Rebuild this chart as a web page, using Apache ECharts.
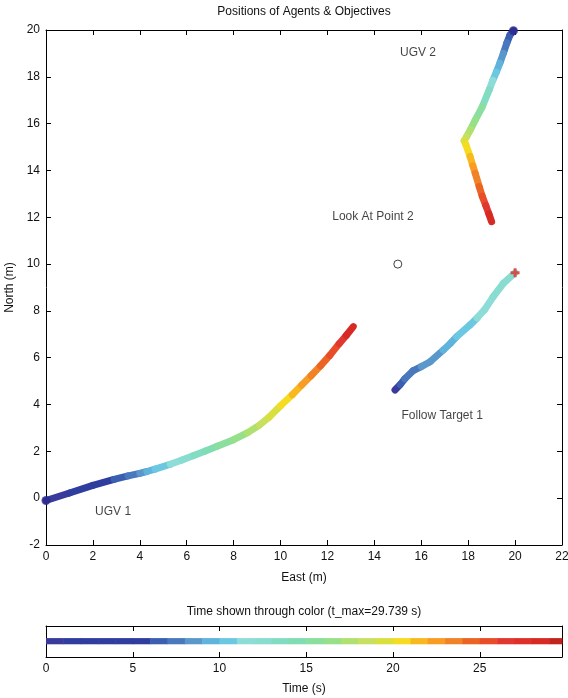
<!DOCTYPE html>
<html>
<head>
<meta charset="utf-8">
<script src="https://cdn.jsdelivr.net/npm/echarts@6/dist/echarts.min.js"></script>
<style>
  html, body { margin: 0; padding: 0; background: #fff; }
  #box { width: 568px; height: 698px; }
</style>
</head>
<body>
<div id="box"></div>
<script>
// colormap, one colour per second of time
const colorMap = ['#3a3a9c','#2f3e9e','#2f3e9e','#2f3e9e','#2f3e9e','#2f3e9e','#3a5fb0','#4a78bd','#5a98cc','#60b4dc',
  '#6cc8e0','#8edcd8','#88dcd0','#82dcc2','#80dcb2','#8ade9e','#96e08a','#b0e070','#c8e060','#d8e040',
  '#f6dc20','#f8b820','#f89c24','#f08228','#ec6424','#e84c28','#e03830','#de3028','#d82a24','#c0241c'];
const tMax = 29.739;

// trajectories: [east, north, time]
const ugv1 = [
  [0.0,-0.1,0],[1.0,0.22,2],[2.0,0.55,4],[2.9,0.8,6],[3.5,0.95,7],[4.0,1.06,8],[4.3,1.14,9],
  [4.65,1.24,10],[5.3,1.45,11],[5.8,1.63,12],[6.3,1.82,13],[6.8,2.02,14],[7.3,2.22,15],
  [8.0,2.5,16],[8.6,2.8,17],[9.1,3.12,18],[9.5,3.45,19],[10.0,3.95,20],[10.5,4.42,21],
  [10.9,4.83,22],[11.3,5.23,23],[11.7,5.65,24],[12.1,6.1,25],[12.5,6.6,26.5],[12.8,6.95,28],[13.1,7.33,29.7]
];
const ugv2 = [
  [19.93,19.97,0],[19.78,19.78,6],[19.65,19.45,7],[19.5,19.0,8],[19.35,18.58,9],[19.2,18.2,10],
  [19.05,17.85,11],[18.9,17.45,13],[18.6,16.72,15],[18.3,16.15,16],[18.1,15.75,17],[17.93,15.44,18],
  [17.83,15.27,19],[17.9,15.1,20],[18.08,14.6,21],[18.2,14.2,22],[18.3,13.88,23],[18.47,13.31,24],
  [18.6,12.9,25],[18.75,12.5,26],[18.88,12.15,28],[19.0,11.81,29.7]
];
const target1 = [
  [14.88,4.62,0],[15.1,4.85,6],[15.3,5.1,7],[15.66,5.45,7.5],[16.0,5.62,8],[16.38,5.83,8.5],[16.94,6.33,9],
  [17.25,6.62,9.5],[17.51,6.9,10],[18.08,7.4,10.5],[18.38,7.7,11],[18.7,8.05,11.5],[19.07,8.61,12],
  [19.5,9.18,12.5],[20.0,9.63,12.9]
];

const startPoints = [[0.0,-0.1],[19.93,19.97]];
const lookPoint = [[15,10]];
const targetEnd = [[20.0,9.63]];

const annotations = [
  {name:'UGV 2', value:[15.86,19.02]},
  {name:'Look At Point 2', value:[13.94,12.01]},
  {name:'Follow Target 1', value:[16.89,3.51]},
  {name:'UGV 1', value:[2.86,-0.59]}
];

const colorTicks = [0,5,10,15,20,25];

function colorAt(t) {
  let k = Math.floor(t);
  if (k < 0) k = 0;
  if (k > colorMap.length - 1) k = colorMap.length - 1;
  return colorMap[k];
}

// segment list for custom series
function segments(path) {
  let out = [];
  for (let i = 0; i < path.length - 1; i++) {
    out.push([path[i][0], path[i][1], path[i+1][0], path[i+1][1], path[i][2]]);
  }
  return out;
}

function trackSeries(path) {
  return {
    type: 'custom',
    xAxisIndex: 0, yAxisIndex: 0,
    encode: {x: [0, 2], y: [1, 3]},
    data: segments(path),
    renderItem: function (params, api) {
      let a = api.coord([api.value(0), api.value(1)]);
      let b = api.coord([api.value(2), api.value(3)]);
      return {
        type: 'line',
        shape: {x1: a[0], y1: a[1], x2: b[0], y2: b[1]},
        style: {stroke: colorAt(api.value(4)), lineWidth: 7, lineCap: 'round'}
      };
    },
    z: 3
  };
}

let blocks = colorMap.map(function (c, i) { return [i, Math.min(i + 1, tMax)]; });

const font = 'Liberation Sans, Arial, sans-serif';
const axisBase = {
  axisLine: {show: true, onZero: false, lineStyle: {color: '#000', width: 1}},
  axisTick: {show: true, inside: true, length: 5, lineStyle: {color: '#000'}},
  splitLine: {show: false},
  axisLabel: {color: '#111', fontSize: 12, fontFamily: font, margin: 6},
  nameTextStyle: {color: '#111', fontSize: 12, fontFamily: font}
};
function ax(extra) { return Object.assign({}, JSON.parse(JSON.stringify(axisBase)), extra); }

let chart = echarts.init(document.getElementById('box'));

let option = {
  backgroundColor: '#fff',
  animation: false,
  title: [
    {text: 'Positions of Agents & Objectives', left: 304, textAlign: 'center', top: 6, padding: 0,
      textStyle: {fontSize: 12, fontWeight: 'normal', color: '#111', fontFamily: font}},
    {text: 'Time shown through color (t_max=29.739 s)', left: 304, textAlign: 'center', top: 606, padding: 0,
      textStyle: {fontSize: 12, fontWeight: 'normal', color: '#111', fontFamily: font}}
  ],
  grid: [
    {left: 46, right: 6, top: 30, height: 515, outerBoundsMode: 'none', containLabel: false},
    {left: 46, right: 6, top: 626, height: 31, outerBoundsMode: 'none', containLabel: false}
  ],
  xAxis: [
    ax({gridIndex: 0, type: 'value', min: 0, max: 22, interval: 2, position: 'bottom',
      name: 'East (m)', nameLocation: 'middle', nameGap: 27}),
    ax({gridIndex: 0, type: 'value', min: 0, max: 22, interval: 2, position: 'top',
      axisLabel: {show: false}}),
    ax({gridIndex: 1, type: 'value', min: 0, max: tMax, interval: 5, position: 'bottom',
      name: 'Time (s)', nameLocation: 'middle', nameGap: 26,
      axisLabel: {color: '#111', fontSize: 12, fontFamily: font, margin: 6,
        formatter: function (v) { return colorTicks.indexOf(v) >= 0 ? String(v) : ''; }}}),
    ax({gridIndex: 1, type: 'value', min: 0, max: tMax, interval: 5, position: 'top',
      axisLabel: {show: false}})
  ],
  yAxis: [
    ax({gridIndex: 0, type: 'value', min: -2, max: 20, interval: 2, position: 'left',
      name: 'North (m)', nameLocation: 'middle', nameGap: 30, nameRotate: 90}),
    ax({gridIndex: 0, type: 'value', min: -2, max: 20, interval: 2, position: 'right',
      axisLabel: {show: false}}),
    ax({gridIndex: 1, type: 'value', min: 0, max: 1, position: 'left',
      axisTick: {show: false}, axisLabel: {show: false}}),
    ax({gridIndex: 1, type: 'value', min: 0, max: 1, position: 'right',
      axisTick: {show: false}, axisLabel: {show: false}})
  ],
  series: [
    trackSeries(ugv1),
    trackSeries(ugv2),
    trackSeries(target1),
    {
      type: 'scatter', xAxisIndex: 0, yAxisIndex: 0, data: startPoints,
      symbol: 'circle', symbolSize: 9, itemStyle: {color: '#2a2a90'}, z: 4
    },
    {
      type: 'scatter', xAxisIndex: 0, yAxisIndex: 0, data: lookPoint,
      symbol: 'circle', symbolSize: 8,
      itemStyle: {color: 'rgba(0,0,0,0)', borderColor: '#111', borderWidth: 1}, z: 4
    },
    {
      type: 'scatter', xAxisIndex: 0, yAxisIndex: 0, data: targetEnd,
      symbol: 'path://M2,0 L4,0 L4,2 L6,2 L6,4 L4,4 L4,6 L2,6 L2,4 L0,4 L0,2 L2,2 Z',
      symbolSize: 9, itemStyle: {color: '#e0302a'}, z: 5
    },
    {
      type: 'scatter', xAxisIndex: 0, yAxisIndex: 0, data: annotations,
      symbolSize: 0, silent: true,
      label: {show: true, position: 'inside', formatter: '{b}', color: '#111', fontSize: 12, fontFamily: font},
      z: 6
    },
    {
      type: 'custom', xAxisIndex: 2, yAxisIndex: 2,
      encode: {x: [0, 1]},
      data: blocks,
      renderItem: function (params, api) {
        let a = api.coord([api.value(0), 0.61]);
        let b = api.coord([api.value(1), 0.41]);
        return {
          type: 'rect',
          shape: {x: a[0], y: a[1], width: b[0] - a[0] + 0.5, height: b[1] - a[1]},
          style: {fill: colorMap[params.dataIndex]}
        };
      },
      z: 2
    }
  ]
};

chart.setOption(option);
</script>
</body>
</html>
